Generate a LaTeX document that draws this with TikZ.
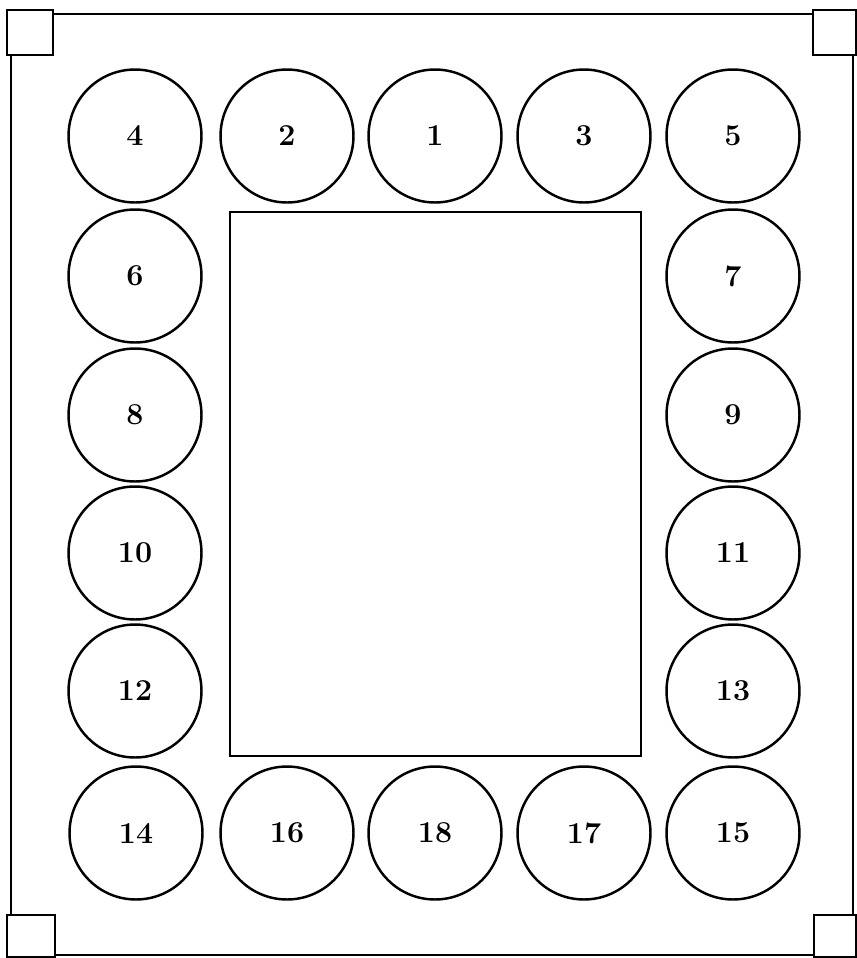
\documentclass[tikz,border=0pt]{standalone}
\tikzset{
  ball/.style={draw, circle, line width=1.4pt, minimum size=2.66cm, inner sep=0pt, font=\LARGE\bfseries},
  post/.style={draw, line width=1.6pt, fill=white}
}
\begin{document}
\begin{tikzpicture}[x=0.02cm,y=-0.02cm]
  \useasboundingbox (0,0) rectangle (857,958);
  % frame
  \draw[line width=1.6pt] (11,14) rectangle (853,955);
  \draw[post] (7,10) rectangle (53,55);
  \draw[post] (813,10) rectangle (856.5,55);
  \draw[post] (7,915) rectangle (55,957.5);
  \draw[post] (814,915) rectangle (856.5,957.5);
  % table top
  \draw[line width=1.4pt] (230,212) rectangle (641,756);
  % top row
  \node[ball] (c4) at (135,136) {4};
  \node[ball] (c2) at (287,136) {2};
  \node[ball] (c1) at (435,136) {1};
  \node[ball] (c3) at (584,136) {3};
  \node[ball] (c5) at (733,136) {5};
  % sides
  \node[ball] (c6) at (135,276) {6};
  \node[ball] (c7) at (733,276) {7};
  \node[ball] (c8) at (135,415) {8};
  \node[ball] (c9) at (733,415) {9};
  \node[ball] (c10) at (135,553) {10};
  \node[ball] (c11) at (733,553) {11};
  \node[ball] (c12) at (135,691) {12};
  \node[ball] (c13) at (733,691) {13};
  % bottom row
  \node[ball] (c14) at (136,833) {14};
  \node[ball] (c16) at (287,833) {16};
  \node[ball] (c18) at (435,833) {18};
  \node[ball] (c17) at (584,833) {17};
  \node[ball] (c15) at (733,833) {15};
\end{tikzpicture}
\end{document}
